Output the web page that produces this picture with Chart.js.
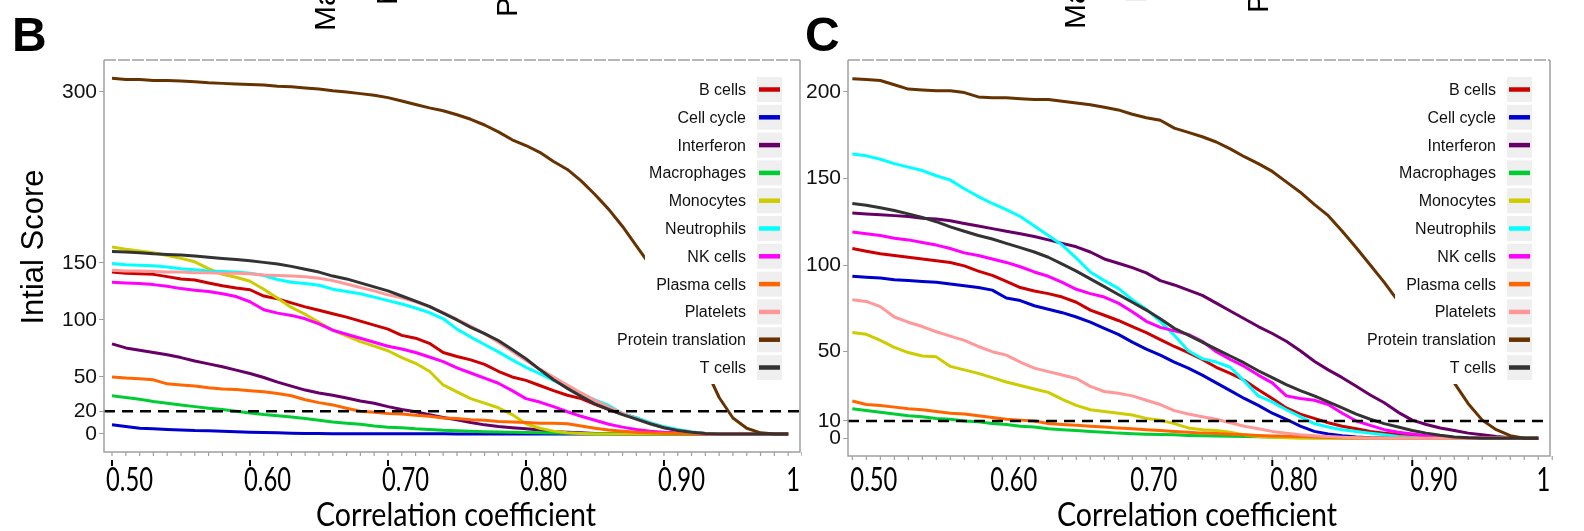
<!DOCTYPE html>
<html>
<head>
<meta charset="utf-8">
<script src="https://cdn.jsdelivr.net/npm/chart.js@4.4.1/dist/chart.umd.min.js"></script>
<style>
  html, body { margin: 0; padding: 0; background: #fff; }
  body { width: 1584px; height: 531px; position: relative; overflow: hidden; }
  canvas { position: absolute; top: 0; }
</style>
</head>
<body>
<canvas id="panelB" width="802" height="531" style="left:0px"></canvas>
<canvas id="panelC" width="782" height="531" style="left:802px"></canvas>
<script>
// correlation thresholds on the x axis
const corr = [
  0.50, 0.51, 0.52, 0.53, 0.54, 0.55, 0.56, 0.57, 0.58, 0.59,
  0.60, 0.61, 0.62, 0.63, 0.64, 0.65, 0.66, 0.67, 0.68, 0.69,
  0.70, 0.71, 0.72, 0.73, 0.74, 0.75, 0.76, 0.77, 0.78, 0.79,
  0.80, 0.81, 0.82, 0.83, 0.84, 0.85, 0.86, 0.87, 0.88, 0.89,
  0.90, 0.91, 0.92, 0.93, 0.94, 0.95, 0.96, 0.97, 0.98, 0.99
];

const seriesNames = ['B cells', 'Cell cycle', 'Interferon', 'Macrophages', 'Monocytes', 'Neutrophils',
  'NK cells', 'Plasma cells', 'Platelets', 'Protein translation', 'T cells'];
const seriesColors = ['#cc0000', '#0000cc', '#660066', '#00cc33', '#cccc00', '#00ffff',
  '#ff00ff', '#ff6600', '#ff9999', '#663300', '#333333'];

const xTickValues = [0.5, 0.6, 0.7, 0.8, 0.9, 1];
const xTickLabels = ['0.50', '0.60', '0.70', '0.80', '0.90', '1'];

// ---- panel B ----
const yTicksB = [0, 20, 50, 100, 150, 300];
const thresholdB = 20;
const bCellsB = [
  142, 141, 140.5, 140, 138, 136, 135, 132.5, 130, 128,
  126.5, 121, 118.5, 115, 111.5, 108.5, 105.5, 102.5, 99, 95.5,
  92, 86.5, 84, 79.5, 71.5, 68, 65, 61, 55, 50,
  47, 42.5, 38, 34, 31, 26, 21.5, 17.5, 14, 9.5,
  6, 3.5, 1.5, 0.5, 0, 0, 0, 0, 0, 0];
const cellCycleB = [
  8, 6.5, 5, 4.5, 4, 3.5, 3, 2.8, 2.5, 2,
  1.5, 1.2, 1, 0.7, 0.5, 0.4, 0.3, 0.2, 0.2, 0.2,
  0.1, 0.1, 0.1, 0.1, 0.1, 0, 0, 0, 0, 0,
  0, 0, 0, 0, 0, 0, 0, 0, 0, 0,
  0, 0, 0, 0, 0, 0, 0, 0, 0, 0];
const interferonB = [
  79, 75.5, 73.5, 71.5, 69.5, 67, 64, 61.5, 59, 56,
  53, 49.5, 45.5, 42, 38.5, 36, 34, 31.5, 29, 27,
  24, 21.5, 19.5, 17, 14.5, 12.5, 10, 8, 6.5, 5.5,
  4.5, 3.5, 2, 1.5, 1, 0.5, 0.4, 0.2, 0, 0,
  0, 0, 0, 0, 0, 0, 0, 0, 0, 0];
const macrophagesB = [
  33.5, 32, 30.5, 28.5, 27, 25.5, 24, 22.5, 21.5, 20,
  18.5, 17, 16, 14.8, 13.5, 12, 10.5, 9.5, 8.5, 7,
  6, 5.5, 4.5, 4, 3.2, 2.8, 2.4, 2, 1.7, 1.5,
  1.3, 1, 0.8, 0.6, 0.4, 0.3, 0.2, 0.1, 0, 0,
  0, 0, 0, 0, 0, 0, 0, 0, 0, 0];
const monocytesB = [
  164, 162, 160.5, 159, 156.5, 154, 151, 145, 140, 137.5,
  134, 127, 119, 111, 105, 98, 91, 86, 81, 77,
  73, 67, 62, 55, 43, 37, 31, 27, 23, 17,
  9, 5, 2.5, 1, 0.5, 0, 0, 0, 0, 0,
  0, 0, 0, 0, 0, 0, 0, 0, 0, 0];
const neutrophilsB = [
  149.5, 148.5, 148, 147.5, 146.5, 145, 144, 143, 142.5, 142,
  141, 139, 135.5, 133, 132, 130.5, 127, 125, 123, 120,
  117, 114, 110.5, 106.5, 101, 92, 85, 78.5, 72, 65,
  58.5, 53, 47, 41, 35, 30, 25, 18, 14, 10,
  6.5, 4, 2, 0.5, 0, 0, 0, 0, 0, 0];
const nkCellsB = [
  133, 132.5, 132, 131, 129.5, 127.5, 126, 125, 123, 120.5,
  116, 109, 106, 104, 101, 96.5, 91, 87.5, 84, 80.5,
  77, 74.5, 71.5, 67.5, 63.5, 58, 53.5, 49, 44.5, 38,
  31, 28, 24, 19.5, 15.5, 12, 8.5, 6, 4, 2.5,
  1.5, 1, 0.4, 0, 0, 0, 0, 0, 0, 0];
const plasmaB = [
  50, 49, 48.5, 47.5, 44, 43, 42, 40.5, 39.5, 39,
  38, 37, 35.5, 33.5, 30, 27.5, 25.5, 22.5, 20, 19,
  18, 17.5, 16.5, 15.5, 14, 13.5, 12.5, 12, 11, 10.5,
  10, 9.5, 9.5, 9, 7, 5, 3.5, 2.5, 1.5, 1,
  0.6, 0.4, 0.2, 0, 0, 0, 0, 0, 0, 0];
const plateletsB = [
  143.5, 143, 143, 142.5, 142, 142, 141.5, 141.5, 141, 141,
  140.5, 139.5, 139, 138.5, 138, 136.5, 134.5, 131.5, 128.5, 125.5,
  122, 119.5, 116, 111.5, 106.5, 100.5, 94.5, 88, 80.5, 72.5,
  64.5, 57, 50, 43, 36, 29.5, 23.5, 18, 13, 9,
  5.5, 3, 1.5, 0.5, 0, 0, 0, 0, 0, 0];
const proteinB = [
  312, 311, 311, 310, 310, 309.5, 309, 308, 307.5, 307,
  306.5, 306, 305, 304.5, 303.5, 302.5, 301, 300, 298.5, 297,
  295, 292, 289, 286, 283.5, 280, 276, 271, 265, 258,
  253, 247, 239, 232, 222, 210, 197, 182, 165, 148,
  130, 107, 83, 58, 32, 14, 5, 1, 0, 0];
const tCellsB = [
  160, 159.5, 159, 158, 157.5, 157, 156, 155, 154, 153,
  152, 150.5, 149, 147, 144.5, 142, 138.5, 136, 132.5, 129,
  125.5, 121, 116.5, 112, 106, 100, 93.5, 88, 82, 74,
  66, 56.5, 47.5, 40, 33, 26.5, 21.5, 17, 13, 9,
  5.5, 3, 1.5, 0.5, 0, 0, 0, 0, 0, 0];

// ---- panel C ----
const yTicksC = [0, 10, 50, 100, 150, 200];
const thresholdC = 10;
const bCellsC = [
  109.5, 108, 106.5, 105.5, 104.5, 103.5, 102.5, 101.5, 99.5, 96.5,
  94, 90.5, 87, 85, 83.5, 81.5, 78.5, 74, 71, 68,
  64.5, 61, 57, 53, 49.5, 45.5, 41, 37.5, 33.5, 28,
  23, 17.5, 14, 11.5, 9, 7, 5.5, 4, 3, 2.2,
  1.5, 0.8, 0.4, 0, 0, 0, 0, 0, 0, 0];
const cellCycleC = [
  93.5, 93, 92.5, 91.5, 91, 90.5, 90, 89, 88, 87,
  85.5, 81, 79.5, 76.5, 74.5, 72.5, 70, 67, 63.5, 60,
  55.5, 51.5, 48, 44, 40.5, 36.5, 32, 27.5, 23, 19,
  14.5, 11, 7, 4, 2.5, 1.5, 0.8, 0.4, 0.2, 0,
  0, 0, 0, 0, 0, 0, 0, 0, 0, 0];
const interferonC = [
  130, 129.5, 129, 128.5, 128, 127, 126.5, 125.5, 124, 122.5,
  121, 119.5, 118, 116.5, 114.5, 112.5, 110.5, 107.5, 103.5, 101,
  98.5, 95.5, 91, 88.5, 85.5, 82.5, 78, 73.5, 69, 64.5,
  60.5, 56, 50.5, 44.5, 39.5, 35, 30, 25, 20.5, 15,
  10.5, 8, 6, 4.5, 3, 2, 1, 0.4, 0, 0];
const macrophagesC = [
  17, 16, 15, 14, 13, 12.5, 11.5, 11, 10, 9.5,
  8.5, 8, 7, 6.5, 5.5, 5, 4.5, 4, 3.5, 3,
  2.7, 2.4, 2.2, 2, 1.7, 1.5, 1.3, 1.2, 1, 0.9,
  0.8, 0.7, 0.6, 0.4, 0.3, 0.2, 0.1, 0, 0, 0,
  0, 0, 0, 0, 0, 0, 0, 0, 0, 0];
const monocytesC = [
  61, 60, 56.5, 52.5, 49.5, 47.5, 47, 41.5, 39.5, 37.5,
  35, 32.5, 30.5, 28.5, 26.5, 22.5, 19, 16.5, 15.5, 14.5,
  13.5, 11.5, 10.5, 8.5, 6, 5, 4.5, 3.5, 2, 1,
  0.6, 0.3, 0, 0, 0, 0, 0, 0, 0, 0,
  0, 0, 0, 0, 0, 0, 0, 0, 0, 0];
const neutrophilsC = [
  164, 163, 161, 158.5, 156.5, 154.5, 151.5, 149, 144, 139.5,
  135.5, 132, 128, 122.5, 117, 111.5, 104, 96, 91, 86.5,
  80, 74.5, 67.5, 59.5, 50.5, 46, 44, 41, 33, 24.5,
  21, 16.5, 12.5, 8.5, 6.5, 5, 4, 3, 2, 1,
  0.5, 0, 0, 0, 0, 0, 0, 0, 0, 0];
const nkCellsC = [
  119, 118, 117, 115.5, 114.5, 113, 111.5, 109.5, 107, 105.5,
  103.5, 101.5, 99, 96, 93.5, 90, 86, 83.5, 81.5, 78,
  73, 67.5, 64, 62, 60, 56, 50, 45.5, 41.5, 36.5,
  32, 24.5, 23, 22, 19.5, 14.5, 10, 7.5, 5, 3.5,
  2.5, 1.5, 0.8, 0.3, 0, 0, 0, 0, 0, 0];
const plasmaC = [
  21.5, 19.5, 19, 18, 17, 16.5, 15.5, 14.5, 14, 13,
  12, 11, 10.5, 10, 8.5, 8, 7.5, 7, 6.5, 6,
  5.5, 5, 4.5, 4, 3.5, 3, 2.8, 2.4, 2, 1.7,
  1.4, 1.2, 1, 0.7, 0.5, 0.3, 0.2, 0, 0, 0,
  0, 0, 0, 0, 0, 0, 0, 0, 0, 0];
const plateletsC = [
  80, 79, 76, 70, 67, 64.5, 61.5, 59, 56.5, 53,
  50, 48, 44, 40.5, 38.5, 36.5, 34.5, 30, 27, 26,
  24.5, 22, 19.5, 16, 14, 12.5, 11, 9, 7, 5.5,
  4, 3, 2, 1.5, 1, 0.6, 0.3, 0, 0, 0,
  0, 0, 0, 0, 0, 0, 0, 0, 0, 0];
const proteinC = [
  207.5, 207, 206.5, 204, 201.5, 201, 200.5, 200.5, 199.5, 197,
  196.5, 196.5, 196, 195.5, 195.5, 194.5, 193.5, 192.5, 191, 189.5,
  187, 185, 183.5, 179, 176.5, 174, 171, 167, 162.5, 158.5,
  154, 148, 142, 135, 128.5, 119.5, 110, 100, 90, 79,
  68, 56, 45, 32, 20, 10.5, 5, 1.5, 0, 0];
const tCellsC = [
  135.5, 134.5, 133, 131.5, 129.5, 127.5, 125, 122, 119.5, 117,
  115, 112.5, 110, 107.5, 104.5, 100.5, 96.5, 92, 87.5, 83,
  78.5, 74, 69, 63.5, 59.5, 55.5, 51.5, 47.5, 43.5, 39,
  35, 31, 27.5, 24.5, 21, 17.5, 14, 11, 8.5, 6.5,
  4.5, 3, 1.8, 0.8, 0.3, 0, 0, 0, 0, 0];

const FONT_SANS = '"Liberation Sans", Arial, sans-serif';
const FONT_LATO = 'Lato, "Liberation Sans", sans-serif';

// layout of each panel (canvas-local pixels)
const panels = [
  {
    id: 'panelB', canvasLeft: 0, letter: 'B', letterX: 12,
    series: [bCellsB, cellCycleB, interferonB, macrophagesB, monocytesB, neutrophilsB,
      nkCellsB, plasmaB, plateletsB, proteinB, tCellsB],
    yTicks: yTicksB, threshold: thresholdB, yMin: -15.8, yMax: 328,
    xMin: 0.4942, xMax: 0.9986,
    left: 104, top: 60, bottom: 452, right: 2,
    majorTicks: [0.5, 0.6, 0.7, 0.8, 0.9],
    labelShift: -6, titleShift: 4,
    yTitle: 'Intial Score',
    topLabels: [
      { text: 'Macrophages', x: 335, y: 31, color: '#000' },
      { text: 'Neutrophils', x: 397, y: 5, color: '#000' },
      { text: 'Plasma cells', x: 517, y: 17, color: '#000' }
    ]
  },
  {
    id: 'panelC', canvasLeft: 802, letter: 'C', letterX: 3,
    series: [bCellsC, cellCycleC, interferonC, macrophagesC, monocytesC, neutrophilsC,
      nkCellsC, plasmaC, plateletsC, proteinC, tCellsC],
    yTicks: yTicksC, threshold: thresholdC, yMin: -10.2, yMax: 218.3,
    xMin: 0.4969, xMax: 0.9984,
    left: 46, top: 60, bottom: 456, right: 34,
    majorTicks: [0.8, 0.9],
    labelShift: -2, titleShift: -2,
    yTitle: null,
    topLabels: [
      { text: 'Macrophages', x: 1085, y: 29, color: '#000' },
      { text: 'Neutrophils', x: 1146, y: 3, color: '#d9d9d9' },
      { text: 'Plasma cells', x: 1268, y: 13, color: '#000' }
    ]
  }
];

function makeDecor(p) {
  return {
    id: 'panelDecor',
    afterDatasetsDraw(chart) {
      const ctx = chart.ctx;
      const area = chart.chartArea;
      const ty = chart.scales.y.getPixelForValue(p.threshold);

      // dashed cut-off line
      ctx.save();
      ctx.strokeStyle = '#000';
      ctx.lineWidth = 2.6;
      ctx.setLineDash([11, 7]);
      ctx.beginPath();
      ctx.moveTo(area.left, ty);
      ctx.lineTo(area.right, ty);
      ctx.stroke();
      ctx.restore();

      // legend inside the plot, white box hides lines behind it
      const R = area.right;
      ctx.save();
      ctx.fillStyle = '#ffffff';
      ctx.fillRect(R - 155, 73, 143, 311);
      ctx.font = '16px ' + FONT_SANS;
      ctx.textAlign = 'right';
      ctx.textBaseline = 'middle';
      seriesNames.forEach((name, i) => {
        const cy = 89.5 + 27.8 * i;
        ctx.fillStyle = '#efefef';
        ctx.fillRect(R - 43, cy - 12.5, 25, 25);
        ctx.strokeStyle = seriesColors[i];
        ctx.lineWidth = 4.5;
        ctx.beginPath();
        ctx.moveTo(R - 41, cy);
        ctx.lineTo(R - 20, cy);
        ctx.stroke();
        ctx.fillStyle = '#111';
        ctx.fillText(name, R - 54, cy + 1);
      });
      ctx.restore();
    },
    afterDraw(chart) {
      const ctx = chart.ctx;
      const area = chart.chartArea;
      const xs = chart.scales.x;

      // panel frame
      ctx.save();
      ctx.strokeStyle = '#a0a0a0';
      ctx.lineWidth = 1.5;
      ctx.beginPath();
      ctx.moveTo(area.left, area.top);
      ctx.lineTo(area.left, area.bottom);
      ctx.lineTo(area.right, area.bottom);
      ctx.lineTo(area.right, area.top);
      ctx.stroke();
      ctx.setLineDash([12, 2]);
      ctx.beginPath();
      ctx.moveTo(area.left, area.top);
      ctx.lineTo(area.right, area.top);
      ctx.stroke();
      ctx.setLineDash([]);

      // small grey ticks along the bottom edge
      ctx.lineWidth = 1.2;
      corr.concat([1]).forEach(v => {
        const px = xs.getPixelForValue(v);
        ctx.beginPath();
        ctx.moveTo(px, area.bottom);
        ctx.lineTo(px, area.bottom + 4);
        ctx.stroke();
      });

      // black major ticks
      ctx.strokeStyle = '#000';
      ctx.lineWidth = 2;
      p.majorTicks.forEach(v => {
        const px = xs.getPixelForValue(v);
        ctx.beginPath();
        ctx.moveTo(px, 460);
        ctx.lineTo(px, 466);
        ctx.stroke();
      });

      // x tick labels (narrow Lato)
      ctx.fillStyle = '#000';
      ctx.font = '32px ' + FONT_LATO;
      ctx.textBaseline = 'alphabetic';
      const sx = 47 / ctx.measureText('0.50').width;
      xTickValues.forEach((v, i) => {
        const px = xs.getPixelForValue(v);
        const last = i === xTickValues.length - 1;
        ctx.save();
        ctx.translate(px + (last ? -2 : p.labelShift), 491);
        ctx.scale(sx, 1);
        ctx.textAlign = last ? 'right' : 'left';
        ctx.fillText(xTickLabels[i], 0, 0);
        ctx.restore();
      });

      // x axis title
      const title = 'Correlation coefficient';
      ctx.font = '32px ' + FONT_LATO;
      const st = 280 / ctx.measureText(title).width;
      ctx.save();
      ctx.translate((area.left + area.right) / 2 + p.titleShift, 526);
      ctx.scale(st, 1);
      ctx.textAlign = 'center';
      ctx.fillText(title, 0, 0);
      ctx.restore();

      // y axis title
      if (p.yTitle) {
        ctx.save();
        ctx.font = '31px ' + FONT_SANS;
        ctx.translate(43, 247);
        ctx.rotate(-Math.PI / 2);
        ctx.textAlign = 'center';
        ctx.fillText(p.yTitle, 0, 0);
        ctx.restore();
      }

      // panel letter
      ctx.font = 'bold 48px ' + FONT_SANS;
      ctx.textAlign = 'left';
      ctx.fillText(p.letter, p.letterX, 51);

      // clipped column labels from the figure above
      ctx.font = '30px ' + FONT_SANS;
      p.topLabels.forEach(t => {
        ctx.save();
        ctx.fillStyle = t.color;
        ctx.translate(t.x - p.canvasLeft, t.y);
        ctx.rotate(-Math.PI / 2);
        ctx.textAlign = 'left';
        ctx.fillText(t.text, 0, 0);
        ctx.restore();
      });
      ctx.restore();
    }
  };
}

function makeChart(p) {
  const canvas = document.getElementById(p.id);
  const datasets = seriesNames.map((name, i) => ({
    label: name,
    data: corr.map((x, k) => ({ x: x, y: p.series[i][k] })),
    borderColor: seriesColors[i],
    borderWidth: 3,
    borderJoinStyle: 'round',
    pointRadius: 0,
    tension: 0,
    fill: false,
    order: seriesNames.length - 1 - i
  }));

  return new Chart(canvas, {
    type: 'line',
    data: { datasets: datasets },
    options: {
      responsive: false,
      animation: false,
      events: [],
      layout: { padding: { top: p.top, right: p.right, left: 0, bottom: 0 } },
      scales: {
        x: {
          type: 'linear',
          min: p.xMin,
          max: p.xMax,
          grid: { display: false },
          border: { display: false },
          ticks: { display: false },
          afterFit: function(scale) { scale.height = canvas.height - p.bottom; }
        },
        y: {
          type: 'linear',
          min: p.yMin,
          max: p.yMax,
          afterBuildTicks: function(scale) {
            scale.ticks = p.yTicks.map(v => ({ value: v }));
          },
          afterFit: function(scale) { scale.width = p.left; },
          grid: { display: true, drawOnChartArea: false, drawTicks: true, tickLength: 5, color: '#a0a0a0' },
          border: { display: false },
          ticks: {
            padding: 2,
            color: '#111',
            font: { family: FONT_SANS, size: 21 }
          }
        }
      },
      plugins: {
        legend: { display: false },
        tooltip: { enabled: false }
      }
    },
    plugins: [makeDecor(p)]
  });
}

panels.forEach(makeChart);
</script>
</body>
</html>
